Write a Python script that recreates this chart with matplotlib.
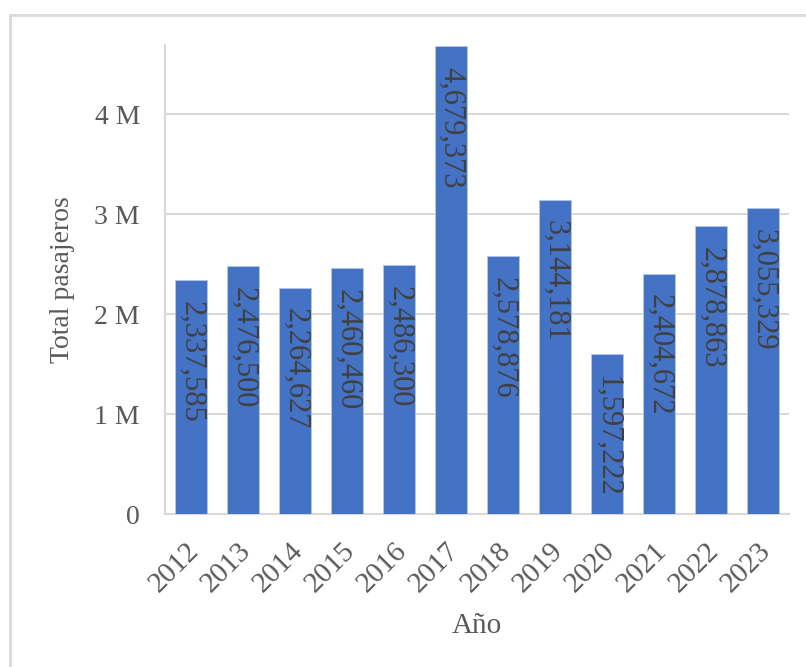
import matplotlib
matplotlib.use("Agg")
import matplotlib.pyplot as plt
from matplotlib.patches import Rectangle
from matplotlib.transforms import ScaledTranslation

years = ["2012", "2013", "2014", "2015", "2016", "2017", "2018", "2019", "2020", "2021", "2022", "2023"]
passengers = [2337585, 2476500, 2264627, 2460460, 2486300, 4679373, 2578876, 3144181, 1597222, 2404672, 2878863, 3055329]
yticks = [0, 1e6, 2e6, 3e6, 4e6]
ytick_labels = ["0", "1 M", "2 M", "3 M", "4 M"]

plt.rcParams['font.family'] = ['Liberation Serif', 'DejaVu Serif']

W, H = 806, 667
fig = plt.figure(figsize=(W / 100, H / 100), dpi=100)
ax = fig.add_axes([165 / W, 1 - 514 / H, (789 - 165) / W, (514 - 45) / H])

# outer border
fig.patches.append(Rectangle((10 / W, -0.1), 1.2, (H - 14.5) / H + 0.1, transform=fig.transFigure,
                             fill=False, edgecolor='#D9D9D9', linewidth=2))

x = range(len(years))
bars = ax.bar(x, passengers, width=0.62, color='#4472C4', edgecolor='#B4C7E7', linewidth=0.6, zorder=3)

for xi, v in zip(x, passengers):
    ax.annotate(f"{v:,}", (xi, v), xytext=(0, -15), textcoords='offset points',
                rotation=-90, ha='center', va='top', fontsize=22, color='#404040', zorder=4)

ax.set_xlim(-0.5, len(years) - 0.5)
ax.set_ylim(0, 4.69e6)
ax.set_yticks(yticks)
ax.set_yticklabels(ytick_labels)
ax.set_xticks(list(x))

ax.grid(axis='y', color='#D9D9D9', linewidth=1.5, zorder=0)
ax.set_axisbelow(True)
for s in ['top', 'right']:
    ax.spines[s].set_visible(False)
for s in ['left', 'bottom']:
    ax.spines[s].set_color('#D9D9D9')
    ax.spines[s].set_linewidth(1.5)

ax.tick_params(axis='both', length=0, labelcolor='#595959')
ax.tick_params(axis='y', pad=18, labelsize=20)
ax.tick_params(axis='x', pad=17)

ax.set_xticklabels(years, rotation=45, ha='right', rotation_mode='anchor', fontsize=21)
offset = ScaledTranslation(-5 / 100, 0, fig.dpi_scale_trans)
for lab in ax.get_xticklabels():
    lab.set_transform(lab.get_transform() + offset)

ax.set_ylabel("Total pasajeros", fontsize=20, color='#595959', labelpad=14)
ax.set_xlabel("Año", fontsize=21, color='#595959', va='top')
ax.xaxis.set_label_coords(0.5, -(613 - 514) / (514 - 45))

fig.savefig("out.png", dpi=100)
